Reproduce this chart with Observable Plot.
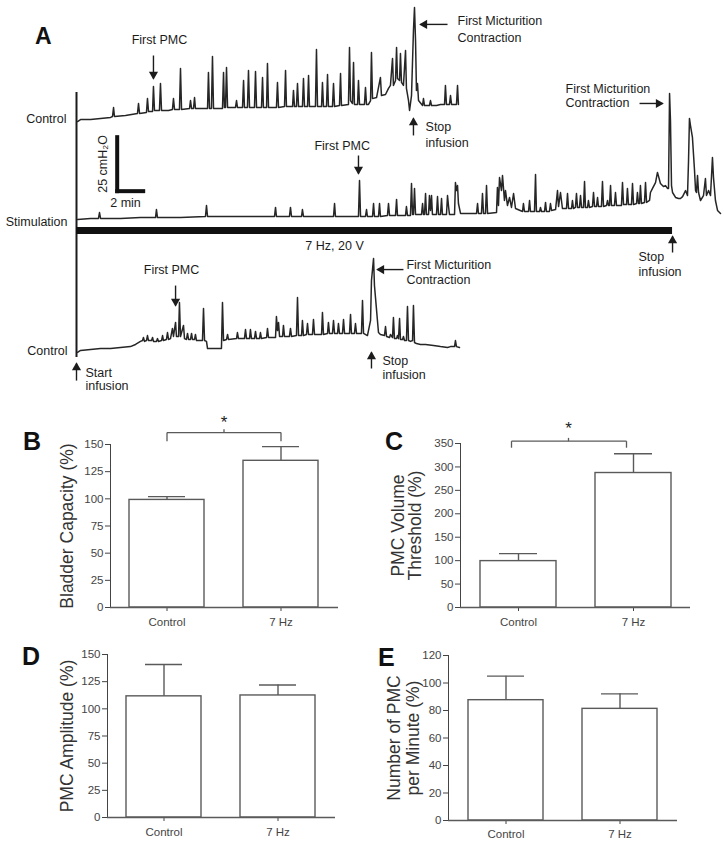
<!DOCTYPE html>
<html><head><meta charset="utf-8">
<script src="https://cdn.jsdelivr.net/npm/d3@7"></script>
<script src="https://cdn.jsdelivr.net/npm/@observablehq/plot@0.6"></script>
<style>
body{margin:0;background:#fff;}
#fig{position:relative;width:724px;height:845px;font-family:"Liberation Sans",Arial,Helvetica,sans-serif;overflow:hidden;}
#fig > div{position:absolute;}
#letters{position:absolute;left:0;top:0;pointer-events:none;}
</style></head><body><div id="fig"></div>
<script>
// ---------- Panel A: bladder pressure traces (time in min, pressure in cmH2O) ----------
const controlTrace1 = [[0.08,0],[0.31,0.9],[1.08,0.9],[1.85,1.4],[2.62,1.9],[2.77,2.3],[2.85,6.5],[2.92,2.3],[3.77,2.8],[4.69,3.7],[4.77,8.3],[4.85,3.7],[5.38,4.2],[5.46,10.6],[5.54,4.6],[5.85,4.6],[5.92,16.2],[6.0,5.1],[6.38,5.1],[6.46,17.6],[6.54,5.1],[7.08,5.1],[7.38,5.6],[7.46,10.6],[7.54,5.6],[7.92,5.6],[8.0,24.5],[8.08,5.6],[8.69,6.0],[8.77,9.7],[8.85,6.0],[9.0,6.0],[9.08,11.1],[9.15,6.0],[10.08,6.0],[10.15,22.7],[10.23,6.0],[10.38,6.0],[10.46,30.1],[10.54,6.0],[11.23,6.0],[11.31,22.7],[11.38,6.5],[11.46,6.5],[11.54,25.0],[11.62,6.5],[12.23,6.5],[12.31,9.7],[12.38,6.5],[12.77,6.5],[12.85,19.0],[12.92,6.5],[13.15,6.5],[13.23,23.6],[13.31,6.5],[13.69,6.5],[13.77,23.1],[13.85,6.5],[14.23,6.5],[14.31,20.4],[14.38,6.5],[14.62,6.5],[14.69,26.9],[14.77,6.5],[15.38,6.5],[15.46,18.1],[15.54,6.5],[16.0,6.9],[16.08,23.6],[16.15,6.9],[16.62,6.9],[16.69,14.4],[16.77,6.9],[16.92,6.9],[17.0,17.6],[17.08,6.9],[17.38,6.9],[17.46,19.9],[17.54,6.9],[17.77,6.9],[17.85,21.3],[17.92,6.9],[18.38,6.9],[18.46,33.3],[18.54,6.9],[18.85,6.9],[18.92,18.1],[19.0,6.9],[19.23,6.9],[19.31,21.8],[19.38,6.9],[19.69,6.9],[19.77,17.6],[19.85,6.9],[20.23,7.4],[20.31,22.2],[20.38,7.4],[20.92,7.9],[21.0,34.3],[21.08,9.7],[21.23,8.3],[21.31,27.3],[21.38,7.9],[21.62,7.9],[21.69,19.0],[21.77,7.9],[22.15,7.9],[22.23,15.7],[22.31,7.9],[22.46,7.9],[22.62,9.7],[22.69,31.9],[22.77,10.6],[23.08,11.1],[23.38,20.4],[23.46,12.0],[23.77,12.5],[24.0,15.3],[24.15,16.7],[24.31,29.2],[24.38,16.7],[24.54,19.0],[24.62,34.3],[24.69,19.9],[24.85,19.0],[24.92,31.5],[25.0,18.1],[25.15,16.7],[25.31,32.9],[25.38,15.3],[25.54,9.7],[25.62,5.1],[25.77,12.0],[25.92,42.1],[26.0,52.8],[26.08,37.5],[26.15,14.4],[26.23,17.6],[26.31,9.7],[26.62,7.4],[26.69,10.6],[26.77,7.4],[27.15,7.4],[27.23,9.7],[27.31,7.4],[27.69,7.4],[28.0,7.9],[28.31,7.9],[28.38,16.7],[28.46,7.9],[28.69,7.9],[28.77,12.0],[28.85,7.9],[29.08,7.9],[29.23,7.9],[29.31,16.7],[29.38,7.9]];

const stimulationTrace = [[0.08,0],[1.08,0.5],[1.69,0.5],[1.77,3.2],[1.85,0.5],[3.38,0.5],[4.92,0.9],[6.08,0.9],[6.15,4.6],[6.23,0.9],[8.0,0.9],[9.92,1.4],[10.0,6.5],[10.08,1.4],[11.85,1.4],[15.23,1.4],[15.31,5.6],[15.38,1.4],[16.38,1.4],[16.46,5.6],[16.54,1.4],[17.31,1.4],[17.38,4.6],[17.46,1.4],[19.77,1.4],[19.85,7.4],[19.92,1.4],[21.08,1.4],[21.69,1.4],[21.77,18.1],[21.85,1.4],[22.23,1.4],[22.31,4.6],[22.38,1.4],[22.77,1.4],[22.85,7.4],[22.92,1.4],[23.23,1.4],[23.31,7.4],[23.38,1.4],[23.92,1.9],[24.0,7.4],[24.08,1.9],[24.54,1.9],[24.62,9.3],[24.69,1.9],[25.31,1.9],[25.38,6.0],[25.46,1.9],[25.69,1.9],[25.77,16.7],[25.85,2.3],[25.92,2.3],[26.0,14.4],[26.08,2.3],[26.54,2.3],[26.62,7.4],[26.69,2.3],[26.77,2.3],[26.85,12.0],[26.92,2.3],[27.08,2.3],[27.15,11.1],[27.23,4.2],[27.31,11.1],[27.38,2.3],[27.69,2.3],[27.77,10.6],[27.85,2.3],[28.0,2.3],[28.08,9.7],[28.15,2.3],[28.46,2.3],[28.54,11.1],[28.62,6.0],[28.69,2.3],[29.08,2.3],[29.15,17.1],[29.23,13.4],[29.31,15.7],[29.38,7.4],[29.54,2.8],[29.92,2.8],[30.77,2.8],[30.85,7.4],[30.92,2.8],[31.15,2.8],[31.23,12.0],[31.31,2.8],[31.46,2.8],[31.54,15.7],[31.62,2.8],[32.31,3.2],[32.38,14.8],[32.46,6.5],[32.54,19.4],[32.69,13.4],[32.77,20.4],[32.92,8.8],[33.0,13.4],[33.15,6.5],[33.31,10.2],[33.46,5.6],[33.62,12.0],[33.77,5.1],[34.31,3.7],[34.38,7.4],[34.46,3.7],[34.77,3.7],[34.85,8.8],[34.92,3.7],[35.23,3.7],[35.31,20.8],[35.38,3.7],[35.62,3.7],[35.69,5.6],[35.77,3.7],[36.0,3.7],[36.08,7.9],[36.15,3.7],[36.38,3.7],[36.46,7.4],[36.54,4.2],[36.85,4.6],[37.0,13.4],[37.08,6.0],[37.23,12.5],[37.38,5.1],[37.69,5.1],[37.77,12.0],[37.85,5.1],[38.08,5.1],[38.15,8.8],[38.23,5.1],[38.38,5.6],[38.46,12.0],[38.54,5.6],[38.69,5.6],[38.77,11.1],[38.85,5.6],[39.0,5.6],[39.08,17.6],[39.15,5.6],[39.31,5.6],[39.38,8.8],[39.46,5.6],[39.69,6.0],[39.77,12.5],[39.85,6.0],[40.0,6.0],[40.08,10.2],[40.15,6.0],[40.38,6.0],[40.46,17.6],[40.54,6.0],[40.77,6.5],[40.85,8.8],[40.92,6.5],[41.0,6.5],[41.08,15.7],[41.15,6.5],[41.38,6.5],[41.46,12.5],[41.54,6.5],[41.92,6.5],[42.0,17.1],[42.08,6.9],[42.31,6.9],[42.38,14.4],[42.46,6.9],[42.69,6.9],[42.77,16.7],[42.85,6.9],[43.08,7.4],[43.15,12.5],[43.23,7.4],[43.31,7.4],[43.38,15.7],[43.46,7.4],[43.69,7.9],[43.77,17.1],[43.85,7.9],[44.08,8.8],[44.15,12.5],[44.31,14.4],[44.54,17.1],[44.69,21.8],[44.92,16.7],[45.15,15.3],[45.31,15.7],[45.46,14.4],[45.54,14.4],[45.62,58.3],[45.69,45.8],[45.77,15.7],[45.85,12.5],[46.08,10.2],[46.31,9.7],[46.46,9.7],[46.62,10.6],[46.85,13.4],[47.0,11.1],[47.08,27.3],[47.15,46.8],[47.23,43.5],[47.38,38.0],[47.54,22.7],[47.62,13.4],[47.69,12.5],[47.77,20.4],[47.85,12.5],[48.0,8.8],[48.23,11.1],[48.38,19.0],[48.46,11.1],[48.62,13.4],[48.77,11.1],[48.85,20.4],[48.92,28.7],[49.0,19.4],[49.15,8.8],[49.31,4.2],[49.54,2.8]];

const controlTrace2 = [[0.08,0.5],[0.31,1.4],[1.08,1.9],[1.85,2.3],[2.62,2.3],[3.38,2.8],[4.15,3.2],[4.54,4.2],[4.92,5.6],[5.08,6.0],[5.15,7.4],[5.23,5.6],[5.38,6.0],[5.46,8.3],[5.54,6.0],[5.77,6.0],[5.85,7.4],[5.92,5.6],[6.15,5.6],[6.23,6.9],[6.31,5.6],[6.54,6.0],[6.62,8.3],[6.69,6.0],[6.92,6.5],[7.0,9.7],[7.08,6.5],[7.23,6.9],[7.38,11.6],[7.46,7.9],[7.62,14.4],[7.69,7.9],[7.85,7.9],[7.92,23.6],[8.0,7.9],[8.23,13.0],[8.31,6.9],[8.46,6.5],[8.54,9.3],[8.62,6.5],[8.77,6.5],[8.85,9.3],[8.92,6.5],[9.08,6.5],[9.15,8.8],[9.23,6.0],[9.69,6.0],[9.77,20.8],[9.85,6.0],[10.0,5.6],[10.08,2.3],[11.15,2.3],[11.23,23.6],[11.31,6.0],[11.54,6.5],[11.62,8.8],[11.69,6.5],[12.31,6.9],[12.38,9.7],[12.46,6.9],[12.92,6.9],[13.0,11.1],[13.08,6.9],[13.31,6.9],[13.38,11.1],[13.46,6.9],[13.69,6.9],[13.77,10.2],[13.85,6.9],[14.08,6.9],[14.15,9.7],[14.23,6.9],[14.62,7.4],[14.69,11.6],[14.77,7.4],[15.31,7.4],[15.38,17.1],[15.46,10.6],[15.54,14.4],[15.62,7.9],[15.85,7.9],[15.92,13.0],[16.0,7.9],[16.38,7.9],[16.46,11.6],[16.54,7.9],[16.92,8.3],[17.0,25.9],[17.08,8.3],[17.31,8.3],[17.38,15.3],[17.46,8.3],[17.69,8.8],[17.77,13.9],[17.85,8.8],[18.15,8.8],[18.23,15.7],[18.31,8.8],[18.85,8.8],[18.92,19.0],[19.0,8.8],[19.31,9.3],[19.38,14.4],[19.46,9.3],[19.69,9.3],[19.77,15.3],[19.85,9.3],[20.08,9.3],[20.15,13.9],[20.23,9.3],[20.46,9.3],[20.54,15.7],[20.62,9.3],[21.0,9.3],[21.08,18.1],[21.15,9.3],[21.38,9.3],[21.46,13.9],[21.54,9.3],[21.92,9.3],[22.0,24.5],[22.08,9.3],[22.38,8.3],[22.62,15.3],[22.69,33.8],[22.85,44.0],[22.92,31.5],[23.0,25.9],[23.15,15.3],[23.23,9.7],[23.38,8.8],[23.69,8.3],[23.77,12.5],[23.85,7.9],[24.08,7.4],[24.15,8.8],[24.31,7.4],[24.38,16.7],[24.46,6.9],[24.62,6.9],[24.69,8.3],[24.77,6.9],[24.85,16.2],[24.92,6.5],[25.08,6.5],[25.15,7.9],[25.23,6.0],[25.38,6.0],[25.46,21.8],[25.54,6.0],[25.69,5.6],[25.85,6.0],[25.92,22.2],[26.0,5.1],[26.15,4.6],[26.46,4.2],[26.85,4.2],[27.46,3.7],[28.0,3.2],[28.54,2.8],[28.77,3.2],[29.08,3.2],[29.15,6.0],[29.23,3.2],[29.46,2.8]];

// text annotations of panel A: time (min), stacked y
const traceLabels = [
  {t:-0.77, y:128.2, text:"Control"},
  {t:-0.69, y:80.1, text:"Stimulation"},
  {t:-0.69, y:20.8, text:"Control"}
];
const leftLabels = [
  {t:29.31, y:173.6, text:"First Micturition"},
  {t:29.31, y:165.3, text:"Contraction"},
  {t:26.85, y:124.1, text:"Stop"},
  {t:26.85, y:116.7, text:"infusion"},
  {t:37.62, y:142.1, text:"First Micturition"},
  {t:37.62, y:135.2, text:"Contraction"},
  {t:43.23, y:63.9, text:"Stop"},
  {t:43.23, y:57.4, text:"infusion"},
  {t:25.38, y:60.6, text:"First Micturition"},
  {t:25.38, y:53.7, text:"Contraction"},
  {t:23.54, y:16.2, text:"Stop"},
  {t:23.54, y:9.3, text:"infusion"},
  {t:0.69, y:10.6, text:"Start"},
  {t:0.69, y:4.2, text:"infusion"}
];
const centerLabels = [
  {t:6.38, y:164.4, text:"First PMC"},
  {t:20.44, y:115.7, text:"First PMC"},
  {t:7.31, y:58.3, text:"First PMC"},
  {t:19.85, y:69.4, text:"7 Hz, 20 V"},
  {t:3.77, y:89.0, text:"2 min"}
];
// arrows: tail -> tip, dir of head
const arrows = [
  {x1:5.92, y1:157.4, x2:5.92, y2:146.8, dir:"down"},
  {x1:28.54, y1:171.8, x2:26.46, y2:171.8, dir:"left"},
  {x1:25.92, y1:120.4, x2:25.92, y2:128.2, dir:"up"},
  {x1:21.69, y1:111.1, x2:21.69, y2:102.8, dir:"down"},
  {x1:43.31, y1:135.2, x2:45.08, y2:135.2, dir:"right"},
  {x1:45.85, y1:66.2, x2:45.85, y2:73.6, dir:"up"},
  {x1:7.62, y1:50.9, x2:7.62, y2:41.7, dir:"down"},
  {x1:25.15, y1:58.3, x2:23.15, y2:58.3, dir:"left"},
  {x1:22.69, y1:12.5, x2:22.69, y2:19.9, dir:"up"},
  {x1:0, y1:6.9, x2:0, y2:14.8, dir:"up"}
];

// ---------- Panels B-E ----------
const barCategories = ["Control", "7 Hz"];
const bladderCapacity = [99, 135];
const bladderCapacitySEM = [3, 13];
const pmcVolumeThreshold = [99, 287];
const pmcVolumeThresholdSEM = [16, 41];
const pmcAmplitude = [111.5, 112.3];
const pmcAmplitudeSEM = [29.3, 9.7];
const pmcPerMinute = [87.5, 81.2];
const pmcPerMinuteSEM = [17.5, 10.9];
const ticksB = [0, 25, 50, 75, 100, 125, 150];
const ticksC = [0, 50, 100, 150, 200, 250, 300, 350];
const ticksD = [0, 25, 50, 75, 100, 125, 150];
const ticksE = [0, 20, 40, 60, 80, 100, 120];

const FONT = '"Liberation Sans", Arial, Helvetica, sans-serif';
const fig = document.getElementById("fig");
function place(node, left, top) {
  const d = document.createElement("div");
  d.style.left = left + "px"; d.style.top = top + "px";
  d.appendChild(node); fig.appendChild(d);
}

// Panel A plot
const offsets = [126.85, 81.48, 19.44];
const rows = (pairs, off) => pairs.map(([t, p]) => ({t, y: p + off}));
const ink = "#1c1c1c";
const traceInk = "#262626";
const dirRot = {down: 180, up: 0, left: -90, right: 90};
const dirDx = {down: 0, up: 0, left: 4, right: -4};
const dirDy = {down: -4, up: 4, left: 0, right: 0};
const headMarks = Object.keys(dirRot).map(dir =>
  Plot.dot(arrows.filter(a => a.dir === dir), {x: "x2", y: "y2", symbol: "triangle", r: 3.4, fill: ink, stroke: "none", rotate: dirRot[dir], dx: dirDx[dir], dy: dirDy[dir]})
);
const panelA = Plot.plot({
  width: 724, height: 395,
  marginLeft: 76, marginRight: 0, marginTop: 0, marginBottom: 0,
  x: {domain: [0, 648 / 13], axis: null},
  y: {domain: [0, 395 / 2.16], axis: null},
  style: {fontFamily: FONT, fontSize: "12.5px", background: "transparent", overflow: "visible", color: ink},
  marks: [
    Plot.ruleX([0], {y1: 17.6, y2: 140.3, stroke: ink, strokeWidth: 2}),
    Plot.line(rows(controlTrace1, offsets[0]), {x: "t", y: "y", stroke: traceInk, strokeWidth: 1.5, strokeLinejoin: "round"}),
    Plot.line(rows(stimulationTrace, offsets[1]), {x: "t", y: "y", stroke: traceInk, strokeWidth: 1.5, strokeLinejoin: "round"}),
    Plot.line(rows(controlTrace2, offsets[2]), {x: "t", y: "y", stroke: traceInk, strokeWidth: 1.5, strokeLinejoin: "round"}),
    Plot.ruleY([76.4], {x1: 0, x2: 45.85, stroke: "#111", strokeWidth: 7}),
    Plot.link([{x1: 3.13, y1: 94.6, x2: 3.13, y2: 119.6}, {x1: 3.13, y1: 94.6, x2: 5.13, y2: 94.6}],
      {x1: "x1", y1: "y1", x2: "x2", y2: "y2", stroke: "#111", strokeWidth: 4, strokeLinecap: "square"}),
    Plot.text(["25 cmH₂O"], {x: () => 2.05, y: () => 107.2, text: d => d, rotate: -90, fill: ink}),
    Plot.text(traceLabels, {x: "t", y: "y", text: "text", textAnchor: "end", fill: ink}),
    Plot.text(leftLabels, {x: "t", y: "y", text: "text", textAnchor: "start", fill: ink}),
    Plot.text(centerLabels, {x: "t", y: "y", text: "text", textAnchor: "middle", fill: ink}),
    Plot.link(arrows, {x1: "x1", y1: "y1", x2: "x2", y2: "y2", stroke: ink, strokeWidth: 1.4}),
    ...headMarks
  ]
});
place(panelA, 0, 0);

function barPanel(o) {
  const data = barCategories.map((c, i) => ({c, v: o.values[i], e: o.sems[i]}));
  const gray = "#5a5a5a";
  const marks = [
    Plot.barY(data, {x: "c", y: "v", fill: "white", stroke: gray, strokeWidth: 1.4}),
    Plot.ruleX(data, {x: "c", y1: "v", y2: d => d.v + d.e, stroke: gray, strokeWidth: 1.4}),
    Plot.tickY(data, {x: "c", y: d => d.v + d.e, stroke: gray, strokeWidth: 1.4, insetLeft: 19, insetRight: 19}),
    Plot.ruleY([0], {stroke: gray, strokeWidth: 1.4}),
    Plot.text([o.title], {text: d => d, frameAnchor: "left", textAnchor: "middle", lineAnchor: "middle", rotate: -90, dx: o.titleDx, fontSize: 17.5, lineHeight: o.lineHeight || 1.05, fill: "#333"})
  ];
  if (o.bracket) {
    const b = o.bracket;
    marks.push(
      Plot.link([0], {x1: () => "Control", x2: () => "7 Hz", y1: () => b.y, y2: () => b.y, dx: b.dx, stroke: gray, strokeWidth: 1.3}),
      Plot.link([0, 1], {x1: i => barCategories[i], x2: i => barCategories[i], y1: () => b.y, y2: () => b.yEnd, dx: b.dx, stroke: gray, strokeWidth: 1.3}),
      Plot.link([0], {x1: () => "Control", x2: () => "Control", y1: () => b.y, y2: () => b.yTick, dx: b.starDx, stroke: gray, strokeWidth: 1.3}),
      Plot.text(["*"], {x: () => "Control", y: () => b.star, text: d => d, dx: b.starDx, fontSize: 17, fill: "#222"})
    );
  }
  const svg = Plot.plot({
    width: o.width, height: o.height,
    marginLeft: o.marginLeft, marginRight: o.marginRight, marginTop: o.marginTop, marginBottom: o.marginBottom,
    x: {type: "band", domain: barCategories, paddingInner: 0.34, paddingOuter: 0.17, tickSize: 4, tickPadding: o.tickPadding || 6, label: null},
    y: {domain: [0, o.yMax], ticks: o.ticks, tickSize: 5, tickPadding: 2, line: true, label: null},
    style: {fontFamily: FONT, fontSize: "11.5px", color: "#444", background: "transparent", overflow: "visible"},
    marks
  });
  place(svg, o.left, o.top);
}

barPanel({left: 0, top: 390, width: 360, height: 245, marginLeft: 110, marginRight: 22, marginTop: 54, marginBottom: 28,
  values: bladderCapacity, sems: bladderCapacitySEM, yMax: 150, ticks: ticksB, title: "Bladder Capacity (%)", titleDx: -43,
  bracket: {y: 161, yEnd: 153, yTick: 164, star: 170, dx: 0, starDx: 57}});
barPanel({left: 360, top: 390, width: 364, height: 245, marginLeft: 100, marginRight: 34, marginTop: 53, marginBottom: 28,
  values: pmcVolumeThreshold, sems: pmcVolumeThresholdSEM, yMax: 350, ticks: ticksC, title: "PMC Volume\nThreshold (%)", titleDx: -53.5, lineHeight: 1.0,
  bracket: {y: 355, yEnd: 341, yTick: 362, star: 382, dx: -7, starDx: 50}});
barPanel({left: 0, top: 620, width: 360, height: 225, marginLeft: 107, marginRight: 25, marginTop: 34, marginBottom: 28,
  values: pmcAmplitude, sems: pmcAmplitudeSEM, yMax: 150, ticks: ticksD, title: "PMC Amplitude (%)", titleDx: -40});
barPanel({left: 360, top: 620, width: 364, height: 225, marginLeft: 88, marginRight: 47, marginTop: 35, marginBottom: 25, tickPadding: 5,
  values: pmcPerMinute, sems: pmcPerMinuteSEM, yMax: 120, ticks: ticksE, title: "Number of PMC\nper Minute (%)", titleDx: -45.5, lineHeight: 1.1});

// panel letters
const ns = "http://www.w3.org/2000/svg";
const letters = document.createElementNS(ns, "svg");
letters.setAttribute("id", "letters");
letters.setAttribute("width", 724); letters.setAttribute("height", 845);
[["A", 35, 44, 23], ["B", 23, 450, 25], ["C", 385, 450, 25], ["D", 22, 665, 25], ["E", 378, 666, 25]].forEach(([t, x, y, s]) => {
  const el = document.createElementNS(ns, "text");
  el.setAttribute("x", x); el.setAttribute("y", y);
  el.setAttribute("font-family", FONT); el.setAttribute("font-weight", "bold");
  el.setAttribute("font-size", s); el.setAttribute("fill", "#111");
  el.textContent = t; letters.appendChild(el);
});
fig.appendChild(letters);
</script></body></html>
